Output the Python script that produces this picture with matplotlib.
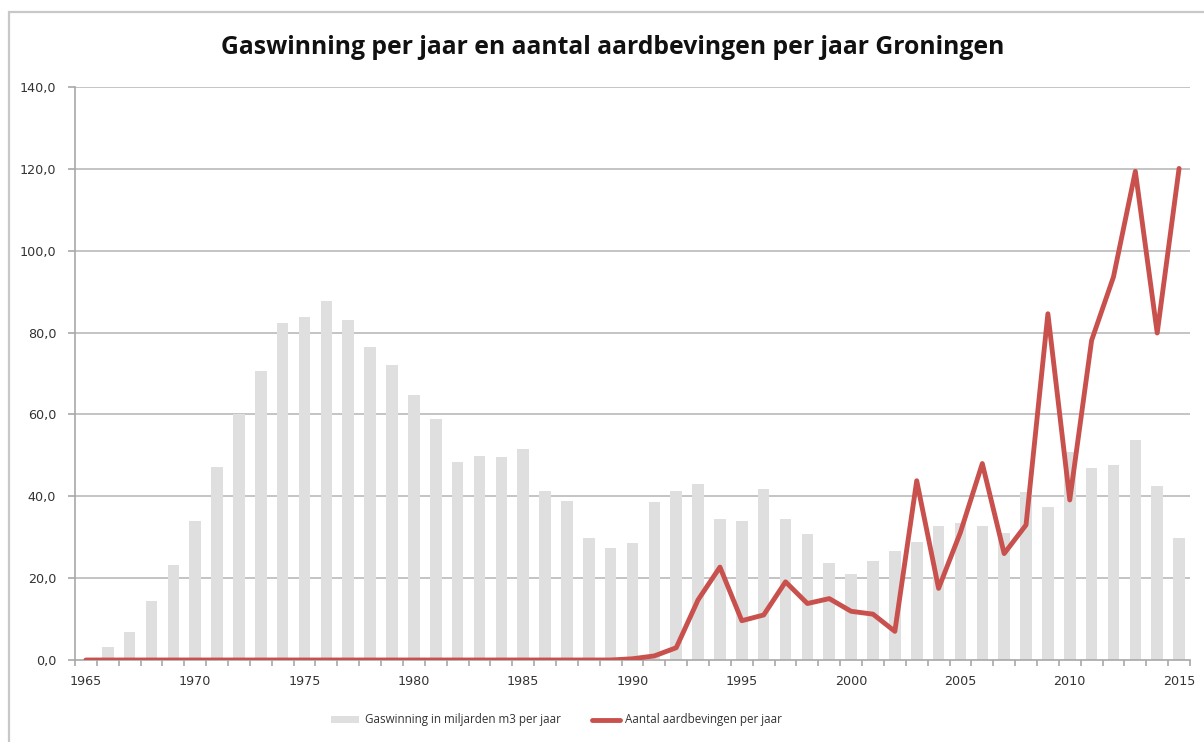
import numpy as np
import matplotlib
matplotlib.use("Agg")
import matplotlib.pyplot as plt
from matplotlib.patches import Patch, Rectangle
from matplotlib.lines import Line2D

# jaren en reeksen
years = list(range(1965, 2016))

# gaswinning in miljarden m3 per jaar
gas = [0.0, 3.2, 6.8, 14.5, 23.1, 34.0, 47.1, 60.2, 70.6, 82.3,
       83.9, 87.6, 83.0, 76.5, 72.0, 64.7, 59.0, 48.3, 49.9, 49.5,
       51.5, 41.3, 38.8, 29.9, 27.4, 28.6, 38.5, 41.3, 43.1, 34.4,
       34.0, 41.8, 34.4, 30.7, 23.8, 21.0, 24.3, 26.7, 28.8, 32.8,
       33.5, 32.8, 31.0, 41.0, 37.3, 50.9, 46.8, 47.6, 53.7, 42.4,
       29.9]

# aantal aardbevingen per jaar
quakes = [0, 0, 0, 0, 0, 0, 0, 0, 0, 0,
          0, 0, 0, 0, 0, 0, 0, 0, 0, 0,
          0, 0, 0, 0, 0, 0.3, 1, 3, 14.7, 22.7,
          9.6, 11, 19.1, 13.8, 15, 11.9, 11.2, 7, 43.8, 17.5,
          31.2, 48, 26, 33, 84.6, 39.1, 78.1, 93.6, 119.4, 79.9,
          120.1]

yticks = [0, 20, 40, 60, 80, 100, 120, 140]
xlabels = [1965, 1970, 1975, 1980, 1985, 1990, 1995, 2000, 2005, 2010, 2015]

grid_col = "#c4c4c4"
bar_col = "#dfdfdf"
red = "#c9514d"
txt_col = "#333333"

fig = plt.figure(figsize=(12.04, 7.42), dpi=100)
ax = fig.add_axes([75 / 1204, 1 - 660 / 742, 1115 / 1204, 573 / 742])

# kader rond de grafiek
fig.patches.append(Rectangle((9 / 1204, -0.1), 1.2, 1 - 12 / 742 + 0.1,
                             transform=fig.transFigure, fill=False,
                             edgecolor="#c8c8c8", lw=1.6, zorder=0))

x = np.arange(len(years))
for yv in yticks[1:]:
    ax.axhline(yv, color=grid_col, lw=1.4, zorder=1)
ax.bar(x, gas, width=0.53, color=bar_col, zorder=2)
ax.plot(x, quakes, color=red, lw=3.5, solid_capstyle="round",
        solid_joinstyle="round", zorder=3)

ax.set_xlim(-0.5, len(years) - 0.5)
ax.set_ylim(0, 140)

for s in ["top", "right"]:
    ax.spines[s].set_visible(False)
for s in ["left", "bottom"]:
    ax.spines[s].set_color("#a8a8a8")
    ax.spines[s].set_linewidth(1.2)

ax.set_yticks(yticks)
ax.set_yticklabels([f"{v:.1f}".replace(".", ",") for v in yticks],
                   fontsize=9.2, color=txt_col, family="DejaVu Sans")
ax.tick_params(axis="y", length=5, width=1.2, color="#a8a8a8", pad=8.5)

ax.set_xticks([years.index(y) for y in xlabels])
ax.set_xticklabels([str(y) for y in xlabels], fontsize=9.2, color=txt_col,
                   family="DejaVu Sans")
ax.tick_params(axis="x", length=0, pad=10.5)
ax.set_xticks(np.arange(-0.5, len(years), 1), minor=True)
ax.tick_params(axis="x", which="minor", length=4, width=1.2, color="#a8a8a8")

fig.text(0.509, 1 - 48 / 742, "Gaswinning per jaar en aantal aardbevingen per jaar Groningen",
         ha="center", va="center", fontsize=17.8, fontweight="bold",
         family="Open Sans", color="#111111")

handles = [Patch(facecolor=bar_col, edgecolor="none"),
           Line2D([0], [0], color=red, lw=3.5, solid_capstyle="round")]
fig.legend(handles, ["Gaswinning in miljarden m3 per jaar",
                     "Aantal aardbevingen per jaar"],
           loc="center", bbox_to_anchor=(0.4625, 1 - 720 / 742), ncol=2,
           frameon=False, prop={"family": "Open Sans", "size": 8.4},
           labelcolor=txt_col, handlelength=2.4, handleheight=0.55,
           columnspacing=2.6, handletextpad=0.5)

fig.savefig("out.png", dpi=100, facecolor="white")
